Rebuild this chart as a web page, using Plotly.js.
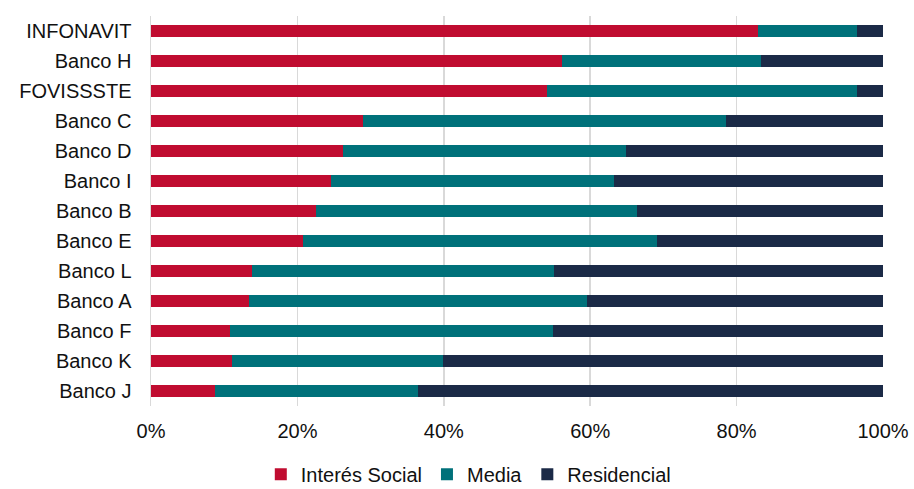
<!DOCTYPE html>
<html>
<head>
<meta charset="utf-8">
<script src="https://cdn.plot.ly/plotly-3.0.1.min.js"></script>
<style>html,body{margin:0;padding:0;background:#fff;}#chart{width:914px;height:489px;}</style>
</head>
<body>
<div id="chart"></div>
<script>
const categories = ["INFONAVIT","Banco H","FOVISSSTE","Banco C","Banco D","Banco I","Banco B","Banco E","Banco L","Banco A","Banco F","Banco K","Banco J"];
const interesSocial = [82.9,56.1,54.1,28.9,26.2,24.6,22.6,20.7,13.8,13.4,10.8,11.1,8.8];
const media = [13.6,27.3,42.4,49.6,38.7,38.7,43.8,48.4,41.2,46.1,44.1,28.8,27.7];
const residencial = [3.5,16.6,3.5,21.5,35.1,36.7,33.6,30.9,45.0,40.5,45.1,60.1,63.5];
const tickVals = [0,20,40,60,80,100];
const tickText = ["0%","20%","40%","60%","80%","100%"];

const mk = (name, vals, color) => ({
  type: 'bar', orientation: 'h', name: name,
  y: categories, x: vals,
  marker: {color: color, line: {width: 0}},
  hoverinfo: 'x+y+name'
});

const data = [
  mk('Interés Social', interesSocial, '#C00C30'),
  mk('Media', media, '#00717A'),
  mk('Residencial', residencial, '#1B2A47')
];

const font = {family: 'Liberation Sans, Arial, sans-serif', size: 20, color: '#111111'};

const layout = {
  width: 914, height: 489,
  margin: {l: 151, r: 31, t: 16, b: 83},
  paper_bgcolor: '#fff', plot_bgcolor: '#fff',
  barmode: 'stack', bargap: 0.6,
  font: font,
  xaxis: {
    range: [0, 100], tickvals: tickVals, ticktext: tickText,
    showgrid: true, gridcolor: '#d9d9d9', gridwidth: 1.5,
    zeroline: false, showline: false, ticks: '', fixedrange: true,
    tickfont: font, automargin: false, ticklabelstandoff: 11
  },
  yaxis: {
    type: 'category', categoryorder: 'array', categoryarray: categories,
    autorange: 'reversed', showgrid: false, zeroline: false, showline: true,
    linecolor: '#d9d9d9', linewidth: 1.5, ticks: '', ticklabelstandoff: 14,
    tickfont: font, automargin: false
  },
  showlegend: true,
  legend: {
    orientation: 'h', x: 0.15, xanchor: 'left',
    yref: 'container', y: 0.03, yanchor: 'middle',
    font: font, traceorder: 'normal', itemwidth: 30
  }
};

Plotly.newPlot('chart', data, layout, {displayModeBar: false, staticPlot: true});
</script>
</body>
</html>
